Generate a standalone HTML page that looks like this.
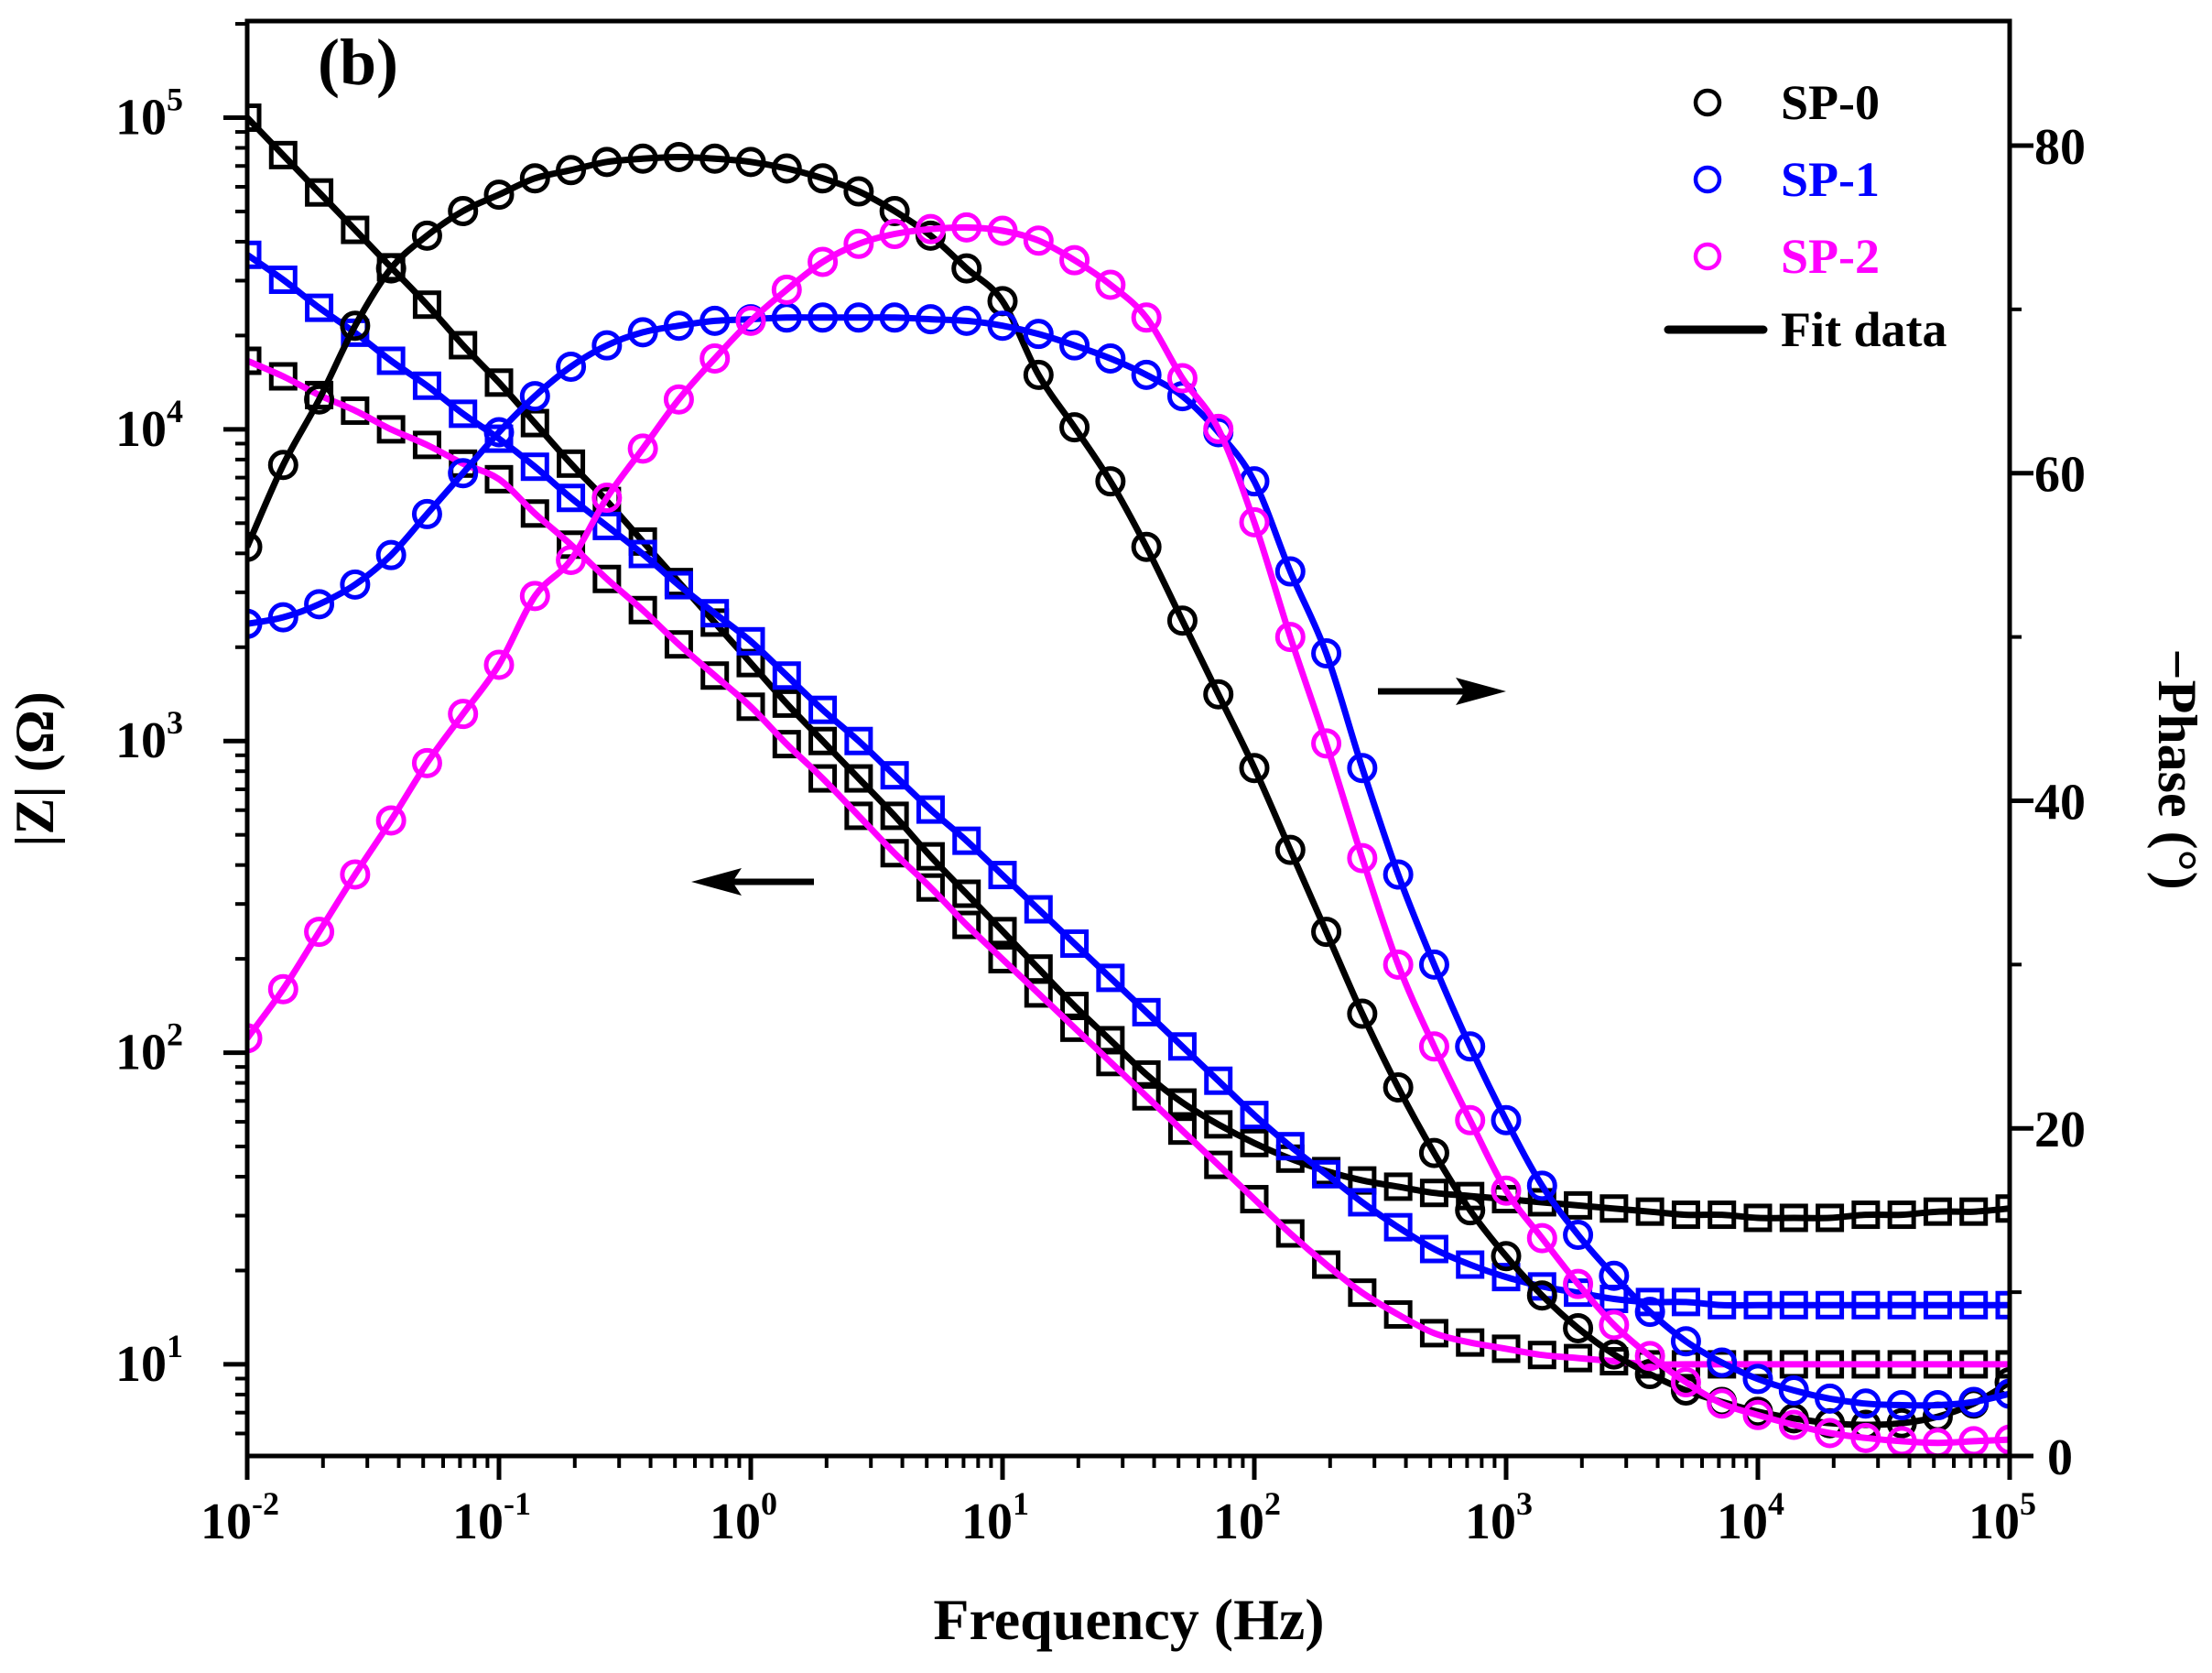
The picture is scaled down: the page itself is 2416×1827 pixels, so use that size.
<!DOCTYPE html>
<html><head><meta charset="utf-8"><style>
html,body{margin:0;padding:0;background:#fff}
svg{display:block}
text{font-family:"Liberation Serif",serif;font-weight:bold}
</style></head><body>
<svg id="chart" width="2416" height="1827" viewBox="0 0 2416 1827" xmlns="http://www.w3.org/2000/svg">
<g id="marks"></g>
<g id="axes"></g>
<text x="347" y="92" font-size="72">(b)</text>
<text x="1233" y="1790" font-size="64" text-anchor="middle">Frequency (Hz)</text>
<text transform="translate(58,840) rotate(-90)" font-size="60" text-anchor="middle">|Z|  (Ω)</text>
<text transform="translate(2358,840) rotate(90)" font-size="60" text-anchor="middle">−Phase (°)</text>
<g>
<g><circle cx="1865" cy="112" r="13" fill="none" stroke="#000" stroke-width="4.5"/><text x="1945" y="130" font-size="54" fill="#000">SP-0</text></g>
<g><circle cx="1865" cy="196" r="13" fill="none" stroke="#0000ff" stroke-width="4.5"/><text x="1945" y="214" font-size="54" fill="#0000ff">SP-1</text></g>
<g><circle cx="1865" cy="280" r="13" fill="none" stroke="#ff00ff" stroke-width="4.5"/><text x="1945" y="298" font-size="54" fill="#ff00ff">SP-2</text></g>
<g><line x1="1822" y1="360" x2="1926" y2="360" stroke="#000" stroke-width="9" stroke-linecap="round"/><text x="1945" y="378" font-size="54" fill="#000">Fit data</text></g>
</g>
<g><line x1="1505" y1="755" x2="1600" y2="755" stroke="#000" stroke-width="7"/><polygon points="1645,755 1590,740 1600,755 1590,770" fill="#000"/></g>
<g><line x1="800" y1="963" x2="889" y2="963" stroke="#000" stroke-width="7"/><polygon points="755,963 810,948 800,963 810,978" fill="#000"/></g>
</svg>
<script>
const logFreqStart = -2;
const pointsPerDecade = 7;
const zSP0 = [5.00,4.88,4.76,4.64,4.52,4.40,4.27,4.15,4.02,3.89,3.77,3.64,3.51,3.38,3.25,3.12,3.00,2.88,2.76,2.63,2.51,2.39,2.27,2.15,2.04,1.93,1.84,1.77,1.71,1.66,1.62,1.59,1.57,1.55,1.54,1.53,1.52,1.51,1.50,1.49,1.48,1.48,1.47,1.47,1.47,1.48,1.48,1.49,1.49,1.50];
const zSP1 = [4.56,4.48,4.39,4.31,4.22,4.14,4.05,3.97,3.88,3.78,3.69,3.60,3.50,3.41,3.32,3.21,3.10,3.00,2.89,2.78,2.68,2.57,2.46,2.35,2.24,2.13,2.02,1.91,1.80,1.70,1.61,1.52,1.44,1.37,1.32,1.28,1.25,1.23,1.21,1.20,1.20,1.19,1.19,1.19,1.19,1.19,1.19,1.19,1.19,1.19];
const zSP2 = [4.22,4.17,4.11,4.06,4.00,3.95,3.89,3.84,3.73,3.63,3.52,3.42,3.31,3.21,3.11,2.99,2.88,2.76,2.64,2.53,2.41,2.30,2.19,2.08,1.97,1.86,1.75,1.64,1.53,1.42,1.32,1.23,1.16,1.10,1.07,1.05,1.03,1.02,1.01,1.00,1.00,1.00,1.00,1.00,1.00,1.00,1.00,1.00,1.00,1.00];
const phSP0 = [55.5,60.5,64.5,69,72.5,74.5,76,77,78,78.5,79,79.2,79.3,79.2,79,78.6,78,77.2,76,74.5,72.5,70.5,66,62.8,59.5,55.5,51,46.5,42,37,32,27,22.5,18.5,15,12.2,9.8,7.8,6.2,5.0,4.0,3.3,2.7,2.3,2.0,1.9,2.0,2.4,3.2,4.5];
const phSP1 = [50.8,51.2,52,53.2,55,57.5,60,62.5,64.7,66.5,67.8,68.6,69,69.3,69.4,69.5,69.5,69.5,69.5,69.4,69.3,69,68.5,67.8,67,66,64.7,62.5,59.5,54,49,42,35.5,30,25,20.5,16.5,13.5,11,8.8,7,5.7,4.7,4,3.5,3.2,3.1,3.1,3.3,3.8];
const phSP2 = [25.5,28.5,32,35.5,38.8,42.3,45.3,48.3,52.5,54.7,58.5,61.5,64.5,67,69.3,71.2,72.9,74,74.6,74.9,75,74.8,74.2,73,71.5,69.5,65.8,62.7,57,50,43.5,36.5,30,25,20.5,16.2,13.3,10.5,8,6.1,4.5,3.2,2.5,1.9,1.4,1.1,0.9,0.8,0.9,1.0];
const xTickExps = [-2,-1,0,1,2,3,4,5];
const yLeftTickExps = [1,2,3,4,5];
const yRightTicks = [0,20,40,60,80];

const L=270,R=2195,T=23,B=1590;
const X0=-2,X1=5, YL0=0.706, YL1=5.31, YR0=0, YR1=87.6;
function xs(lf){return L+(lf-X0)/(X1-X0)*(R-L);}
function yl(lz){return B-(lz-YL0)/(YL1-YL0)*(B-T);}
function yr(p){return B-(p-YR0)/(YR1-YR0)*(B-T);}
const NS='http://www.w3.org/2000/svg';
const marks=document.getElementById('marks'), axes=document.getElementById('axes');
function mk(tag,attrs,parent){const e=document.createElementNS(NS,tag);for(const k in attrs)e.setAttribute(k,attrs[k]);parent.appendChild(e);return e;}
function smooth(pts){let d='M'+pts[0][0].toFixed(1)+','+pts[0][1].toFixed(1);
 for(let i=0;i<pts.length-1;i++){const p0=pts[Math.max(0,i-1)],p1=pts[i],p2=pts[i+1],p3=pts[Math.min(pts.length-1,i+2)];
  const c1=[p1[0]+(p2[0]-p0[0])/6,p1[1]+(p2[1]-p0[1])/6],c2=[p2[0]-(p3[0]-p1[0])/6,p2[1]-(p3[1]-p1[1])/6];
  d+='C'+c1[0].toFixed(1)+','+c1[1].toFixed(1)+' '+c2[0].toFixed(1)+','+c2[1].toFixed(1)+' '+p2[0].toFixed(1)+','+p2[1].toFixed(1);}
 return d;}
const clip=mk('clipPath',{id:'pc'},mk('defs',{},marks));mk('rect',{x:L,y:T,width:R-L,height:B-T},clip);
const g=mk('g',{'clip-path':'url(#pc)'},marks);
function series(vals,yf,markColor,lineColor,shape,name){
 const pts=vals.map((v,i)=>[xs(logFreqStart+i/pointsPerDecade),yf(v)]);
 const grp=mk('g',{},g);
 
 
 pts.forEach(p=>{let m;
  if(shape==='sq'){m=mk('rect',{x:p[0]-13,y:p[1]-13,width:26,height:26,fill:'none',stroke:markColor,'stroke-width':5},grp);}
  else{m=mk('circle',{cx:p[0],cy:p[1],r:14,fill:'none',stroke:markColor,'stroke-width':5},grp);}
  
  });
 const ln=mk('path',{d:smooth(pts),fill:'none',stroke:lineColor,'stroke-width':7},grp);
 
 
}
series(zSP0,yl,'#000','#000','sq','modulus-sp0');
series(zSP1,yl,'#0000ff','#0000ff','sq','modulus-sp1');
series(zSP2,yl,'#000','#ff00ff','sq','modulus-sp2');
series(phSP0,yr,'#000','#000','c','phase-sp0');
series(phSP1,yr,'#0000ff','#0000ff','c','phase-sp1');
series(phSP2,yr,'#ff00ff','#ff00ff','c','phase-sp2');
const fr=mk('rect',{x:L,y:T,width:R-L,height:B-T,fill:'none',stroke:'#000','stroke-width':5},axes);


xTickExps.forEach((e,i)=>{const x=xs(e);
 mk('line',{x1:x,y1:B,x2:x,y2:B+26,stroke:'#000','stroke-width':5},axes);
 if(i<xTickExps.length-1)for(let k=2;k<10;k++){const xm=xs(e+Math.log10(k));mk('line',{x1:xm,y1:B,x2:xm,y2:B+13,stroke:'#000','stroke-width':4},axes);}
 const t=mk('text',{x:x-8,y:1680,'font-size':56,'text-anchor':'middle'},axes);
 
 
 t.textContent='10';const s=mk('tspan',{dy:-26,'font-size':36},t);s.textContent=String(e);});
yLeftTickExps.forEach(e=>{const y=yl(e);
 mk('line',{x1:L,y1:y,x2:L-26,y2:y,stroke:'#000','stroke-width':5},axes);
 const t=mk('text',{x:200,y:y+18,'font-size':56,'text-anchor':'end'},axes);
 
 
 t.textContent='10';const s=mk('tspan',{dy:-26,'font-size':36},t);s.textContent=String(e);});
for(let e=0;e<6;e++)for(let k=2;k<10;k++){const lz=e+Math.log10(k);if(lz>YL0&&lz<YL1){const y=yl(lz);mk('line',{x1:L,y1:y,x2:L-13,y2:y,stroke:'#000','stroke-width':4},axes);}}
yRightTicks.forEach(p=>{const y=yr(p);
 mk('line',{x1:R,y1:y,x2:R+26,y2:y,stroke:'#000','stroke-width':5},axes);
 const t=mk('text',{x:2250,y:y+20,'font-size':56,'text-anchor':'middle'},axes);
 
 
 t.textContent=String(p);});
for(let p=10;p<YR1;p+=20){const y=yr(p);mk('line',{x1:R,y1:y,x2:R+13,y2:y,stroke:'#000','stroke-width':4},axes);}
</script>
</body></html>
